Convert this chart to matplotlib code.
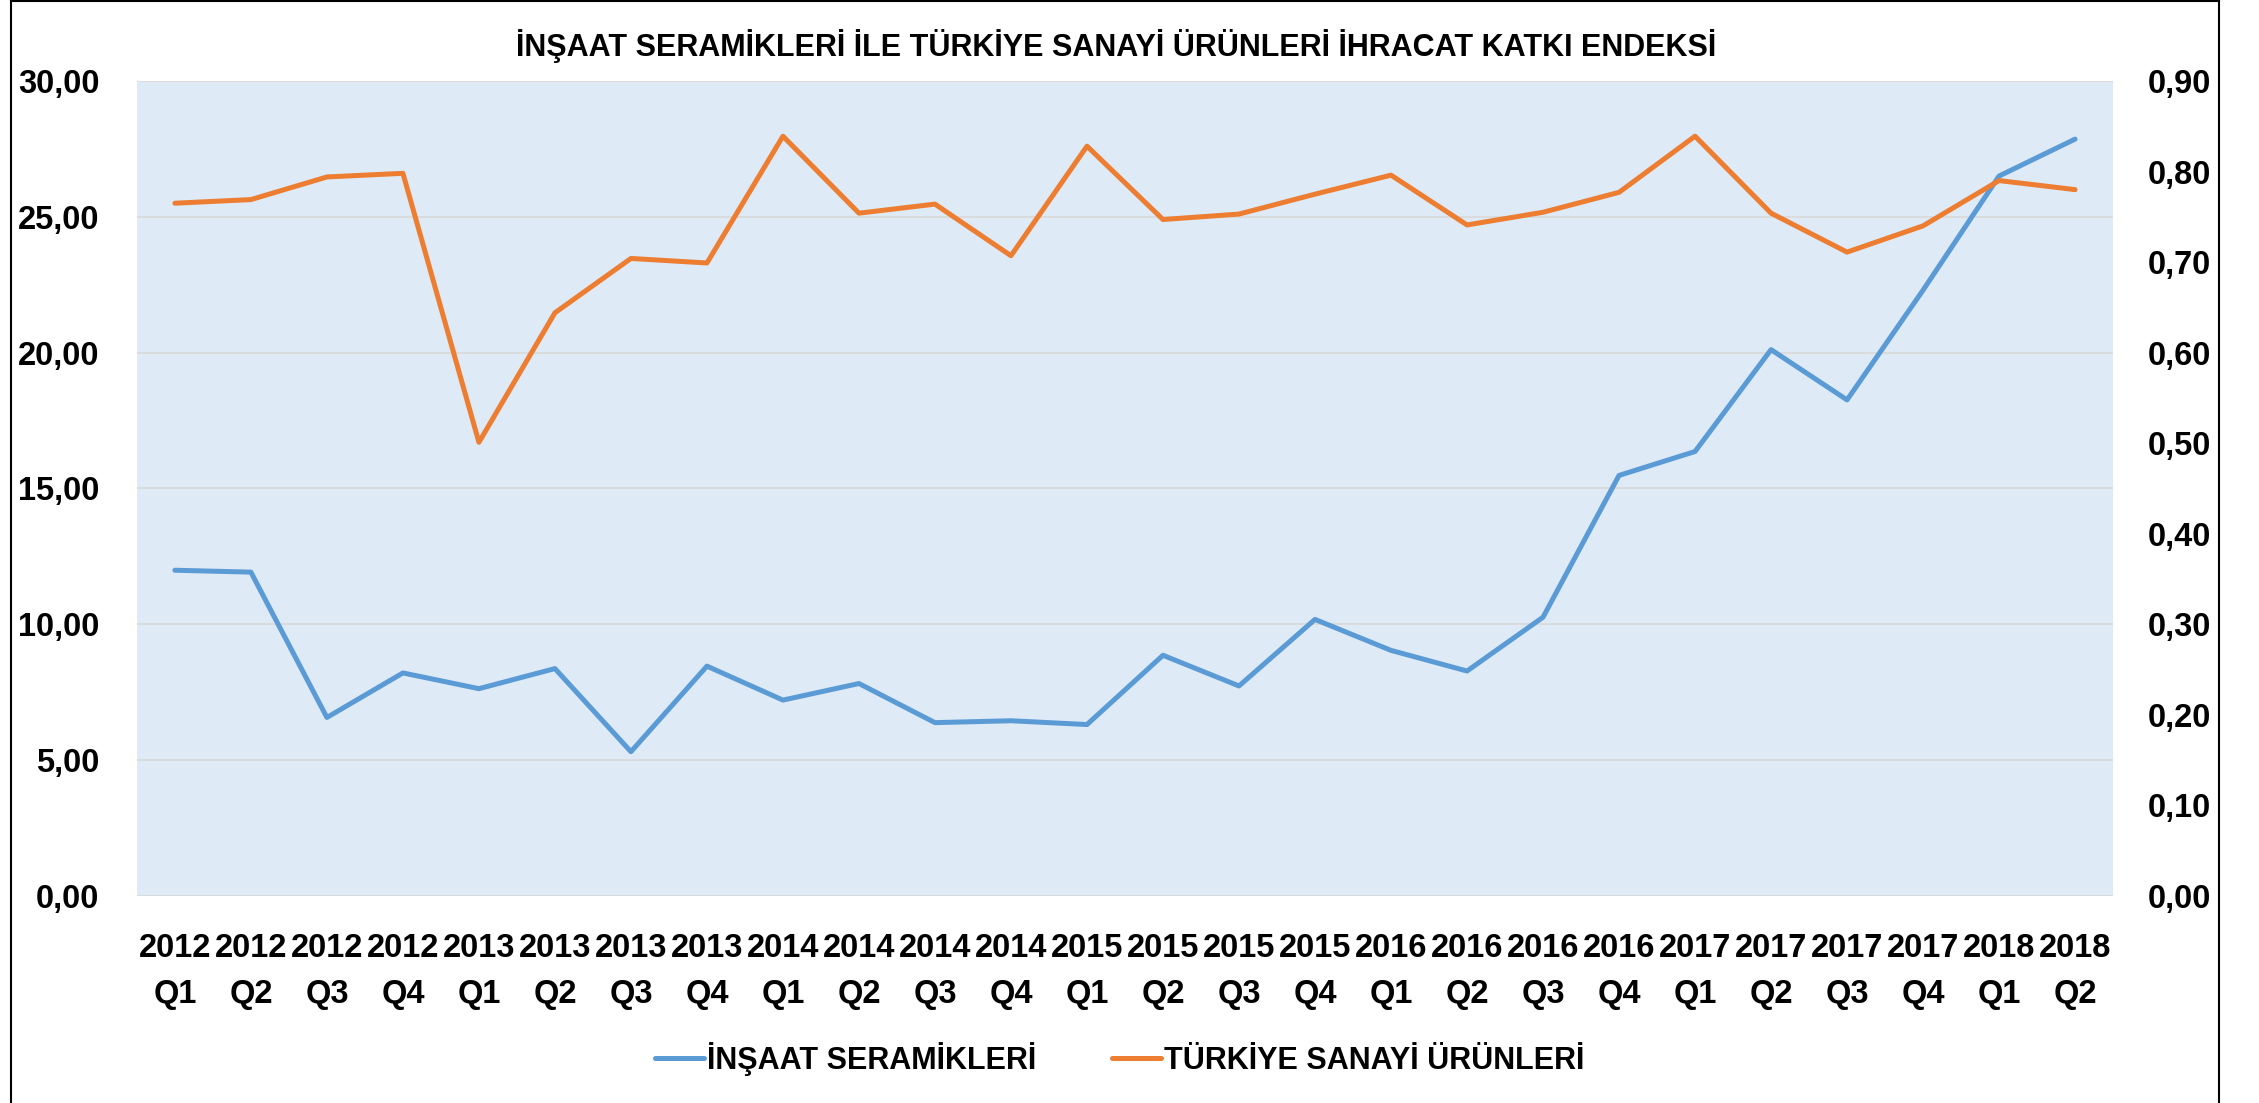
import matplotlib.pyplot as plt
from matplotlib.ticker import FuncFormatter, MultipleLocator
from matplotlib.lines import Line2D
import numpy as np

years = ["2012", "2012", "2012", "2012", "2013", "2013", "2013", "2013",
         "2014", "2014", "2014", "2014", "2015", "2015", "2015", "2015",
         "2016", "2016", "2016", "2016", "2017", "2017", "2017", "2017",
         "2018", "2018"]
quarters = ["Q1", "Q2", "Q3", "Q4"] * 6 + ["Q1", "Q2"]

# left axis
insaat_seramikleri = [11.99, 11.92, 6.57, 8.21, 7.63, 8.37, 5.31, 8.46,
                      7.21, 7.82, 6.38, 6.45, 6.31, 8.86, 7.73, 10.18,
                      9.04, 8.28, 10.26, 15.48, 16.36, 20.11, 18.26, 22.30,
                      26.50, 27.86]
# right axis
turkiye_sanayi = [0.765, 0.769, 0.794, 0.798, 0.501, 0.644, 0.704, 0.699,
                  0.839, 0.754, 0.764, 0.707, 0.828, 0.747, 0.753, 0.775,
                  0.796, 0.741, 0.755, 0.777, 0.839, 0.754, 0.711, 0.740,
                  0.790, 0.780]

title = "İNŞAAT SERAMİKLERİ İLE TÜRKİYE SANAYİ ÜRÜNLERİ İHRACAT KATKI ENDEKSİ"
blue = "#5B9BD5"
orange = "#ED7D31"

plt.rcParams['font.family'] = ['Liberation Sans', 'DejaVu Sans']
plt.rcParams['font.weight'] = 'bold'

fig = plt.figure(figsize=(22.59, 11.03), dpi=100)
ax = fig.add_axes([0.0606, 0.1877, 0.8748, 0.7389])
ax.set_facecolor("#DEEAF6")
ax2 = ax.twinx()

x = np.arange(len(years))
labels = [y + "\n" + q for y, q in zip(years, quarters)]

l1, = ax.plot(x, insaat_seramikleri, color=blue, lw=3.6,
              solid_capstyle='round', solid_joinstyle='round')
l2, = ax2.plot(x, turkiye_sanayi, color=orange, lw=3.6,
               solid_capstyle='round', solid_joinstyle='round')

ax.set_xlim(-0.5, len(years) - 0.5)
ax.set_ylim(0, 30)
ax2.set_ylim(0, 0.9)
ax.yaxis.set_major_locator(MultipleLocator(5))
ax2.yaxis.set_major_locator(MultipleLocator(0.1))
ax.yaxis.set_major_formatter(FuncFormatter(lambda v, p: f"{v:.2f}".replace(".", ",")))
ax2.yaxis.set_major_formatter(FuncFormatter(lambda v, p: f"{v:.2f}".replace(".", ",")))

ax.set_xticks(x)
ax.set_xticklabels(labels, linespacing=1.6)
ax.tick_params(axis='x', length=0, pad=27, labelsize=23.5)
ax.tick_params(axis='y', length=0, pad=27, labelsize=23.5)
ax2.tick_params(axis='y', length=0, pad=25, labelsize=23.5)

ax.grid(axis='y', color="#D9D9D9", lw=1.2)
ax.set_axisbelow(True)
for a in (ax, ax2):
    for s in a.spines.values():
        s.set_visible(False)

fig.text(0.494, 0.958, title, ha='center', va='center', fontsize=22, fontweight='bold')

fig.legend([l1, l2], ["İNŞAAT SERAMİKLERİ", "TÜRKİYE SANAYİ ÜRÜNLERİ"],
           loc='center', bbox_to_anchor=(0.4957, 0.04), ncol=2, frameon=False,
           fontsize=22, handlelength=1.6, handletextpad=0.1, columnspacing=2.5)

# chart border
fig.add_artist(Line2D([11 / 2259, 11 / 2259], [0, 1], color='black', lw=1.5))
fig.add_artist(Line2D([2219 / 2259, 2219 / 2259], [0, 1], color='black', lw=1.5))
fig.add_artist(Line2D([11 / 2259, 2219 / 2259], [0.999, 0.999], color='black', lw=1.5))

fig.savefig("out.png", dpi=100)
